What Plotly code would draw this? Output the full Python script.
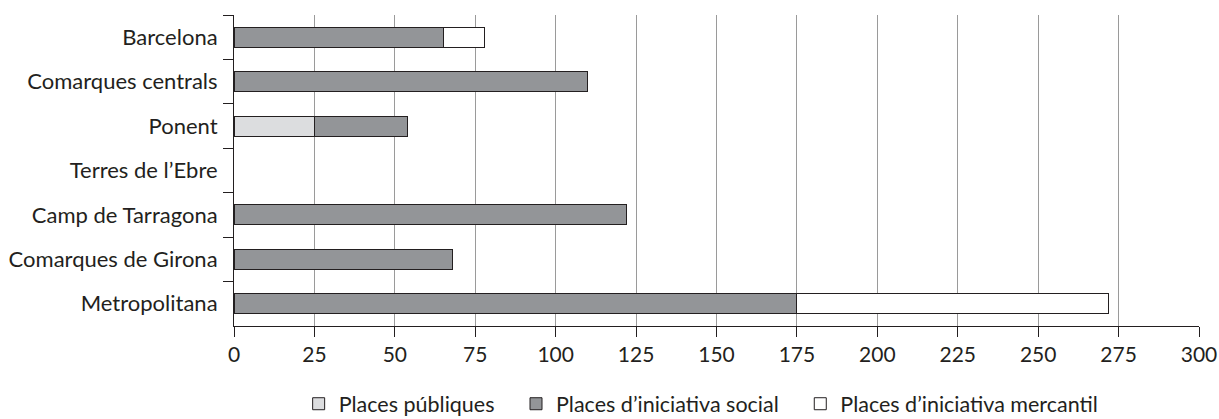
import plotly.graph_objects as go

categories = ["Barcelona", "Comarques centrals", "Ponent", "Terres de l\u2019Ebre",
              "Camp de Tarragona", "Comarques de Girona", "Metropolitana"]
publiques = [0, 0, 25, 0, 0, 0, 0]
social = [65, 110, 29, 0, 122, 68, 175]
mercantil = [13, 0, 0, 0, 0, 0, 97]
x_ticks = [0, 25, 50, 75, 100, 125, 150, 175, 200, 225, 250, 275, 300]

NB = "\u00a0"
series = [
    ("Places públiques" + NB * 3, publiques, "#dcdddf"),
    ("Places d\u2019iniciativa social" + NB * 3, social, "#939598"),
    ("Places d\u2019iniciativa mercantil", mercantil, "#ffffff"),
]

FONT = "Lato, 'Open Sans', sans-serif"
INK = "#231f20"

fig = go.Figure()
for name, vals, col in series:
    fig.add_trace(go.Bar(
        y=categories, x=[v if v else None for v in vals], name=name, orientation="h",
        marker=dict(color=col, line=dict(color=INK, width=1)),
        width=0.45,
    ))

fig.update_layout(
    barmode="stack",
    width=1219, height=419,
    margin=dict(l=234, r=20, t=15, b=93, autoexpand=False),
    paper_bgcolor="white", plot_bgcolor="white",
    font=dict(family=FONT, size=21.5, color=INK),
    showlegend=True,
    legend=dict(orientation="h", xref="container", x=0.245, xanchor="left",
                yref="paper", y=-0.25, yanchor="middle",
                font=dict(size=21.5), itemwidth=30, traceorder="normal",
                itemclick=False),
    xaxis=dict(range=[0, 300], tickvals=x_ticks, showgrid=True, gridcolor="#9a9a9a",
               gridwidth=1, showline=True, linecolor=INK, linewidth=1,
               ticks="outside", ticklen=10, tickcolor=INK, zeroline=False,
               tickfont=dict(size=21), automargin=False),
    yaxis=dict(autorange="reversed", showline=True, linecolor=INK, linewidth=1,
               ticks="outside", ticklen=10, tickcolor=INK, tickson="boundaries",
               showgrid=False, ticklabelstandoff=11, tickfont=dict(size=22),
               automargin=False),
)

fig.write_html("out.html", config={"displayModeBar": False},
               post_script="document.body.style.margin='0';")
